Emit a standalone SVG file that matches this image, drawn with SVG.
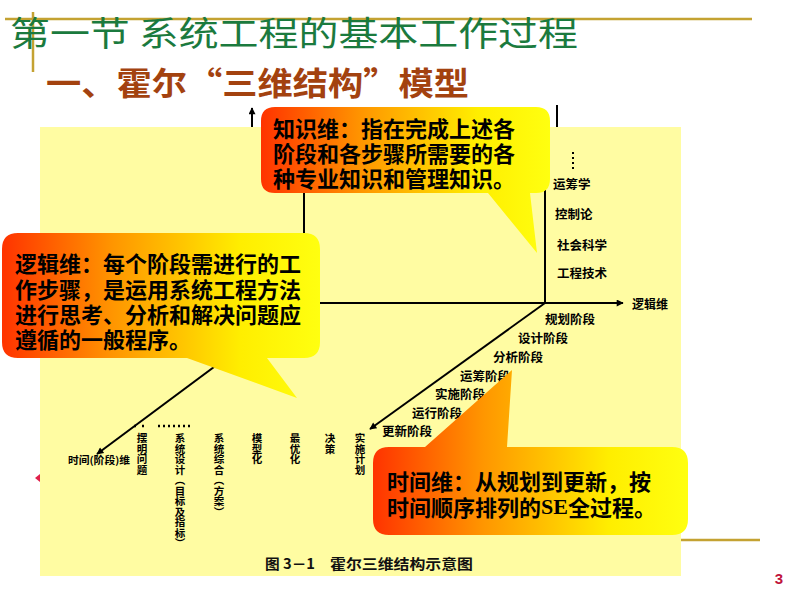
<svg xmlns="http://www.w3.org/2000/svg" width="800" height="600" viewBox="0 0 800 600">
<defs>
<style>
.ax{stroke:#000;stroke-width:2;fill:none}
.gold{stroke:#C4A232;stroke-width:2.5;fill:none}
.lbl{font-family:"Noto Sans CJK SC","Noto Sans CJK JP",sans-serif;font-weight:bold;font-size:12.5px;fill:#000}
.vl{font-family:"Noto Sans CJK SC","Noto Sans CJK JP",sans-serif;font-weight:bold;font-size:10.5px;fill:#000;writing-mode:vertical-rl}
.bub{font-family:"Noto Sans CJK SC","Noto Sans CJK JP",sans-serif;font-weight:bold;font-size:22px;fill:#000}
</style>
<linearGradient id="g" x1="0" y1="0" x2="1" y2="0">
<stop offset="0" stop-color="#FF3300"/>
<stop offset="0.35" stop-color="#FF9600"/>
<stop offset="0.75" stop-color="#FFEE00"/>
<stop offset="1" stop-color="#FFFF10"/>
</linearGradient>
<marker id="ar" viewBox="0 0 10 10" refX="9" refY="5" markerWidth="9" markerHeight="7" markerUnits="userSpaceOnUse" orient="auto">
<path d="M0,0 L10,5 L0,10 z" fill="#000"/>
</marker>
</defs>
<rect width="800" height="600" fill="#fff"/>

<g id="title">
<line class="gold" x1="5" y1="19" x2="752" y2="19"/>
<line class="gold" x1="33" y1="12" x2="33" y2="72"/>
<text x="10" y="31" dominant-baseline="central" textLength="568" lengthAdjust="spacingAndGlyphs" style="font-family:'Noto Sans CJK SC','Noto Sans CJK JP',sans-serif;font-size:34px;fill:#1B7A3E">第一节 系统工程的基本工作过程</text>
<text x="46" y="81" dominant-baseline="central" textLength="423" lengthAdjust="spacingAndGlyphs" style="font-family:'Noto Sans CJK SC','Noto Sans CJK JP',sans-serif;font-size:32px;font-weight:bold;fill:#A3420F">一、霍尔“三维结构”模型</text>
</g>

<rect id="panel" x="40" y="127" width="641" height="449" fill="#FFFCA2"/>

<g id="connectors">
<line class="ax" x1="252" y1="127" x2="252" y2="108" marker-end="url(#ar)"/>
<line class="ax" x1="557" y1="105" x2="557" y2="127"/>
<line class="ax" x1="304" y1="120" x2="304" y2="303"/>
<line class="ax" x1="545" y1="130" x2="545" y2="303"/>
<line class="ax" x1="300" y1="303" x2="623" y2="303" marker-end="url(#ar)"/>
<line class="ax" x1="545" y1="303" x2="370" y2="429" marker-end="url(#ar)"/>
<line class="ax" x1="300" y1="303" x2="97" y2="454" marker-end="url(#ar)"/>
<line x1="573" y1="152" x2="573" y2="171" stroke="#000" stroke-width="2" stroke-dasharray="2,3"/>
<line x1="134" y1="426" x2="150" y2="426" stroke="#000" stroke-width="2.5" stroke-dasharray="2,6"/>
<line x1="158" y1="426" x2="192" y2="426" stroke="#000" stroke-width="2.5" stroke-dasharray="2,3"/>
</g>

<g id="knowledge-labels">
<text class="lbl" x="553" y="183" dominant-baseline="central">运筹学</text>
<text class="lbl" x="555" y="213" dominant-baseline="central">控制论</text>
<text class="lbl" x="557" y="244" dominant-baseline="central">社会科学</text>
<text class="lbl" x="557" y="272" dominant-baseline="central">工程技术</text>
<text class="lbl" x="632" y="303" dominant-baseline="central" style="font-size:12px">逻辑维</text>
</g>

<g id="time-labels">
<text class="lbl" x="545" y="318" dominant-baseline="central">规划阶段</text>
<text class="lbl" x="518" y="337" dominant-baseline="central">设计阶段</text>
<text class="lbl" x="493" y="356" dominant-baseline="central">分析阶段</text>
<text class="lbl" x="460" y="375" dominant-baseline="central">运筹阶段</text>
<text class="lbl" x="435" y="393" dominant-baseline="central">实施阶段</text>
<text class="lbl" x="412" y="412" dominant-baseline="central">运行阶段</text>
<text class="lbl" x="382" y="430" dominant-baseline="central">更新阶段</text>
</g>

<g id="logic-steps">
<text class="lbl" x="68" y="459" dominant-baseline="central" style="font-size:10px" textLength="62" lengthAdjust="spacingAndGlyphs">时间(阶段)维</text>
<text class="vl" x="142" y="433">摆明问题</text>
<text class="vl" x="180" y="433">系统设计（目标及指标）</text>
<text class="vl" x="219" y="433">系统综合（方案）</text>
<text class="vl" x="257" y="433">模型化</text>
<text class="vl" x="295" y="433">最优化</text>
<text class="vl" x="330" y="433">决策</text>
<text class="vl" x="360" y="433">实施计划</text>
</g>

<g id="caption">
<text x="265" y="563" dominant-baseline="central" textLength="50" lengthAdjust="spacingAndGlyphs" style="font-family:'Noto Sans CJK SC',sans-serif;font-size:14px;font-weight:bold;fill:#111">图 3－1</text>
<text x="330" y="563" dominant-baseline="central" textLength="143" lengthAdjust="spacingAndGlyphs" style="font-family:'Noto Sans CJK SC',sans-serif;font-size:14px;font-weight:bold;fill:#111">霍尔三维结构示意图</text>
</g>

<g id="knowledge-bubble">
<path d="M275,107 H536 Q550,107 550,121 V179 Q550,193 536,193 H530 L537,253 L488,193 H275 Q261,193 261,179 V121 Q261,107 275,107 Z" fill="url(#g)"/>
<text class="bub" x="273" y="127" dominant-baseline="central">知识维：指在完成上述各</text>
<text class="bub" x="273" y="152" dominant-baseline="central">阶段和各步骤所需要的各</text>
<text class="bub" x="273" y="177" dominant-baseline="central">种专业知识和管理知识。</text>
</g>

<g id="logic-bubble">
<path d="M18,233 H304 Q320,233 320,249 V342 Q320,358 304,358 H267 L297,398 L187,358 H18 Q2,358 2,342 V249 Q2,233 18,233 Z" fill="url(#g)"/>
<text class="bub" x="15" y="262" dominant-baseline="central">逻辑维：每个阶段需进行的工</text>
<text class="bub" x="15" y="288" dominant-baseline="central">作步骤，是运用系统工程方法</text>
<text class="bub" x="15" y="313" dominant-baseline="central">进行思考、分析和解决问题应</text>
<text class="bub" x="15" y="338" dominant-baseline="central">遵循的一般程序。</text>
</g>

<g id="time-bubble">
<path d="M389,447 H425 L512,370 L507,447 H672 Q688,447 688,463 V519 Q688,535 672,535 H389 Q373,535 373,519 V463 Q373,447 389,447 Z" fill="url(#g)"/>
<text class="bub" x="387" y="480" dominant-baseline="central">时间维：从规划到更新，按</text>
<text class="bub" x="387" y="506" dominant-baseline="central">时间顺序排列的<tspan style="font-family:'Liberation Serif',serif">SE</tspan>全过程。</text>
</g>

<g id="footer">
<line class="gold" x1="681" y1="540" x2="760" y2="540"/>
<text x="779" y="578" text-anchor="middle" dominant-baseline="central" style="font-family:'Liberation Sans',sans-serif;font-size:15px;font-weight:bold;fill:#C0143C">3</text>
<path d="M40,474 L35,478 L40,482 Z" fill="#E0204A"/>
</g>
</svg>
